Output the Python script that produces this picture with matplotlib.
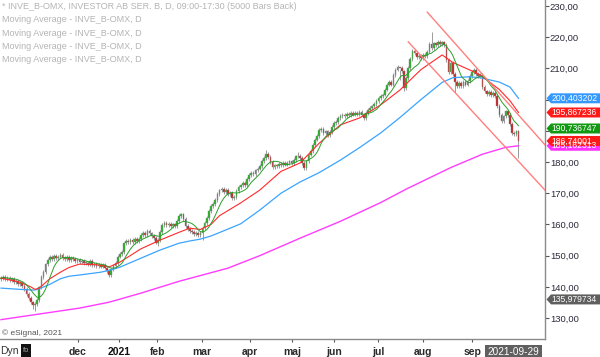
import numpy as np
import pandas as pd
import matplotlib
matplotlib.use('Agg')
import matplotlib.pyplot as plt
import matplotlib.transforms as mtransforms
from matplotlib.patches import Polygon, Rectangle
from matplotlib.ticker import FuncFormatter, FixedLocator

plt.rcParams['font.family'] = ['Liberation Sans', 'DejaVu Sans']

# --- daily closes, INVE_B ---
closes = [
    142.8, 143.3, 142.5, 142.9, 142.2, 142.6, 141.5, 142.0, 140.8, 141.2,
    140.2, 139.3, 137.8, 136.5, 135.0, 134.2, 134.6, 135.8, 139.8, 143.2,
    144.8, 147.2, 148.5, 149.6, 148.8, 149.8, 149.1, 149.7, 150.1, 149.3,
    149.0, 149.6, 148.7, 149.3, 148.9, 148.2, 148.6, 147.9, 148.3, 147.6,
    147.8, 147.2, 148.3, 146.9, 147.3, 146.8, 147.1, 146.5, 146.9, 146.2,
    145.2, 143.9, 145.6, 146.8, 147.6, 149.7, 150.6, 151.2, 153.9, 154.6,
    154.3, 155.0, 154.4, 155.3, 154.7, 155.4, 156.5, 157.2, 156.6, 157.8,
    157.1, 156.3, 155.6, 154.2, 155.0, 157.6, 159.8, 160.6, 159.7, 160.3,
    159.6, 160.0, 159.4, 161.0, 162.6, 163.2, 161.8, 159.6, 158.6, 158.0,
    157.5, 156.8, 157.3, 156.5, 157.2, 158.8, 160.5, 162.0, 164.2, 165.8,
    166.6, 167.9, 169.8, 170.9, 171.3, 170.5, 171.0, 169.7, 170.2, 168.4,
    168.9, 170.6, 171.9, 172.5, 173.4, 172.6, 174.6, 175.9, 176.4, 176.0,
    177.3, 177.9, 178.8, 180.3, 181.2, 182.6, 181.6, 180.0, 178.4, 178.9,
    178.6, 179.3, 178.9, 179.6, 179.2, 179.8, 180.2, 179.6, 180.6, 181.8,
    181.9, 181.2, 179.6, 178.0, 180.2, 182.4, 183.6, 185.4, 187.2, 188.4,
    190.2, 190.6, 189.3, 189.8, 188.6, 189.5, 191.2, 192.4, 192.8, 194.2,
    194.8, 195.2, 194.6, 195.4, 195.0, 195.6, 195.2, 195.8, 195.4, 196.0,
    195.2, 194.0, 195.8, 196.6, 197.2, 197.8, 198.6, 199.6, 200.6, 201.2,
    201.6, 203.2, 204.8, 205.6, 204.8, 207.8, 209.6, 210.4, 210.0, 209.0,
    203.8, 207.0, 210.2, 213.0, 215.6, 215.0, 213.6, 214.0, 213.4, 214.3,
    214.0, 215.4, 217.8, 216.6, 218.0, 217.4, 218.6, 217.8, 218.3, 217.4,
    212.6, 208.8, 211.6, 208.2, 205.6, 204.2, 205.2, 204.4, 205.6, 204.8,
    206.0, 207.6, 208.8, 209.4, 208.2, 207.4, 207.8, 204.0, 202.6, 201.8,
    202.4, 201.4, 202.0, 201.2, 198.0, 195.0, 193.2, 194.6, 196.2, 195.0,
    192.2, 189.4, 189.0, 189.8, 186.74,
]
first_open = 142.5

# notable wicks {bar: price}
wick_high = {125: 183.8, 140: 183.2, 203: 221.7, 188: 206.2}
wick_low = {15: 133.0, 16: 132.4, 74: 153.0, 95: 155.0, 143: 177.4,
            190: 202.6, 214: 202.4, 244: 181.3}

# moving averages read at sampled bars
ma_idx = [0, 9, 14, 16, 18, 23, 28, 32, 37, 47, 51, 56, 66, 75, 84, 89, 94,
          99, 103, 113, 122, 132, 141, 150, 160, 169, 179, 188, 198, 208,
          213, 221, 226, 235, 240, 244]
ma_red = [142.8, 141.5, 140.0, 139.2, 139.6, 142.6, 144.7, 146.2, 147.3,
          147.0, 146.4, 147.9, 152.2, 155.0, 157.5, 158.8, 158.4, 160.0,
          162.8, 166.9, 171.0, 177.0, 179.7, 186.0, 191.9, 194.1, 198.3,
          203.0, 209.6, 214.3, 211.9, 209.5, 207.9, 203.2, 199.6, 195.87]
ma_blue = [139.6, 139.2, 139.0, 139.0, 139.4, 140.8, 142.6, 143.4, 143.8,
           144.7, 145.3, 146.3, 149.2, 151.8, 154.0, 154.7, 155.3, 156.3,
           157.4, 160.2, 164.6, 170.0, 173.6, 176.6, 180.6, 184.6, 189.3,
           194.2, 200.0, 205.5, 207.0, 207.3, 207.0, 205.6, 204.0, 200.40]
mag_idx = [0, 18, 37, 51, 66, 84, 107, 122, 141, 160, 179, 191, 212, 227, 238, 244]
ma_mag = [129.5, 131.3, 133.2, 135.1, 138.0, 141.8, 146.0, 150.0, 155.6,
          161.0, 167.0, 171.3, 178.2, 182.5, 184.7, 185.2]

# trend channel anchors (bar, price)
chan_x = [[201, 256.5], [192, 256.5]]
chan_y = [[228.0, 185.5], [218.5, 171.0]]

# axis labels
month_pos = [36.2, 55.5, 73.6, 94.6, 117.4, 137.1, 157.2, 177.9, 199.2, 222.1]
month_lbl = ['dec', '2021', 'feb', 'mar', 'apr', 'maj', 'jun', 'jul', 'aug', 'sep']
last_date = '2021-09-29'
price_ticks = list(range(130, 231, 10))
hidden_ticks = [190, 200]  # covered by the price tags

tags = [
    (185.2, '185,162313', '#ff33ff'),
    (200.403202, '200,403202', '#3399ff'),
    (195.867236, '195,867236', '#ff1a1a'),
    (190.736747, '190,736747', '#119911'),
    (186.74001, '186,74001', '#ff1a1a'),
    (135.979734, '135,979734', '#5f5f5f'),
]

legend_lines = [
    '* INVE_B-OMX, INVESTOR AB SER. B, D, 09:00-17:30 (5000 Bars Back)',
    'Moving Average - INVE_B-OMX, D',
    'Moving Average - INVE_B-OMX, D',
    'Moving Average - INVE_B-OMX, D',
    'Moving Average - INVE_B-OMX, D',
]

# --- derived candle data ---
c = np.array(closes)
o = np.array([first_open] + closes[:-1])
idx = np.arange(len(c))
hi = np.maximum(o, c) + 0.6
lo = np.minimum(o, c) - 0.6
for k, v in wick_high.items():
    hi[k] = v
for k, v in wick_low.items():
    lo[k] = v
ma_green = pd.Series(closes).rolling(8, min_periods=1).mean()

fig = plt.figure(figsize=(6.0, 3.57), dpi=100)
W, H = 600, 357
ax = fig.add_axes([0, (H - 339) / H, 545 / W, 339 / H])
ax.set_xlim(-0.5, 256.5)
ax.set_ylim(123.3, 231.9)

# candles
ax.vlines(idx, lo, hi, color='#8c8c8c', lw=0.6, zorder=2)
up = c >= o
body_col = np.where(up, '#1db51d', '#d01c1c')
body_h = np.maximum(np.abs(c - o), 0.25)
ax.bar(idx, body_h, bottom=np.minimum(o, c), width=0.8, color=body_col,
       edgecolor='#8c8c8c', linewidth=0.3, zorder=3)

# moving averages
ax.plot(mag_idx, ma_mag, color='#ff3cff', lw=1.0, zorder=4)
ax.plot(ma_idx, ma_blue, color='#3aa4ff', lw=0.9, zorder=4)
ax.plot(ma_idx, ma_red, color='#ff2a2a', lw=0.8, zorder=4)
ax.plot(idx, ma_green, color='#2a9e2a', lw=0.7, zorder=4)

# channel
for xs, ys in zip(chan_x, chan_y):
    ax.plot(xs, ys, color='#ff7f7f', lw=1.0, zorder=4)

# spines / axes
for s in ['top', 'left']:
    ax.spines[s].set_visible(False)
for s in ['right', 'bottom']:
    ax.spines[s].set_color('#8a8a8a')
    ax.spines[s].set_linewidth(1.0)


def price_fmt(v, p):
    if int(round(v)) in hidden_ticks:
        return ''
    return f'{v:.2f}'.replace('.', ',')


ax.yaxis.tick_right()
ax.yaxis.set_major_locator(FixedLocator(price_ticks))
ax.yaxis.set_major_formatter(FuncFormatter(price_fmt))
ax.tick_params(axis='y', length=3, width=0.8, color='#555555', pad=0.5,
               labelsize=6.8, labelcolor='#2b2b3b')
ax.set_xticks(month_pos)
ax.set_xticklabels([])
ax.tick_params(axis='x', length=2, width=0.8, color='#555555')

xtrans = mtransforms.blended_transform_factory(ax.transData, ax.transAxes)
ylab = -13 / 339
for pos, lbl in zip(month_pos, month_lbl):
    ax.text(pos, ylab, lbl, transform=xtrans, ha='center', va='center',
            fontsize=7.5, fontweight='bold', color='#111111' if lbl == '2021' else '#2a2a2a',
            clip_on=False)
ax.text(241.5, ylab, last_date, transform=xtrans, ha='center', va='center',
        fontsize=7.2, color='white', clip_on=False, zorder=6,
        bbox=dict(boxstyle='square,pad=0.25', facecolor='#606060', edgecolor='none'))

# price tags on the right axis
ttrans = mtransforms.blended_transform_factory(ax.transAxes, ax.transData)
half = 1.6
px = 1 / 545
for val, txt, col in tags:
    poly = Polygon([(1 + 1.5 * px, val), (1 + 6 * px, val + half), (1 + 56 * px, val + half),
                    (1 + 56 * px, val - half), (1 + 6 * px, val - half)],
                   closed=True, transform=ttrans, facecolor=col, edgecolor='none',
                   clip_on=False, zorder=7)
    ax.add_patch(poly)
    ax.text(1 + 6.5 * px, val, txt, transform=ttrans, ha='left', va='center',
            fontsize=6.2, color='white', clip_on=False, zorder=8)

# legend text
for i, line in enumerate(legend_lines):
    fig.text(2 / W, 1 - (6.5 + 13.3 * i) / H, line, ha='left', va='center',
             fontsize=6.5, color='#b4b4b4')

fig.text(2 / W, 1 - 333 / H, '© eSignal, 2021', ha='left', va='center',
         fontsize=6.0, color='#555555')
fig.text(0.5 / W, 1 - 351 / H, 'Dyn', ha='left', va='center', fontsize=7.5, color='#333333')
fig.patches.append(Rectangle((21 / W, 1 - 357 / H), 10 / W, 13 / H,
                             transform=fig.transFigure, facecolor='#111111',
                             edgecolor='none'))
fig.text(26 / W, 1 - 350 / H, 'fo', ha='center', va='center', fontsize=5.5, color='#aaaaaa')

fig.savefig('out.png', dpi=100)
